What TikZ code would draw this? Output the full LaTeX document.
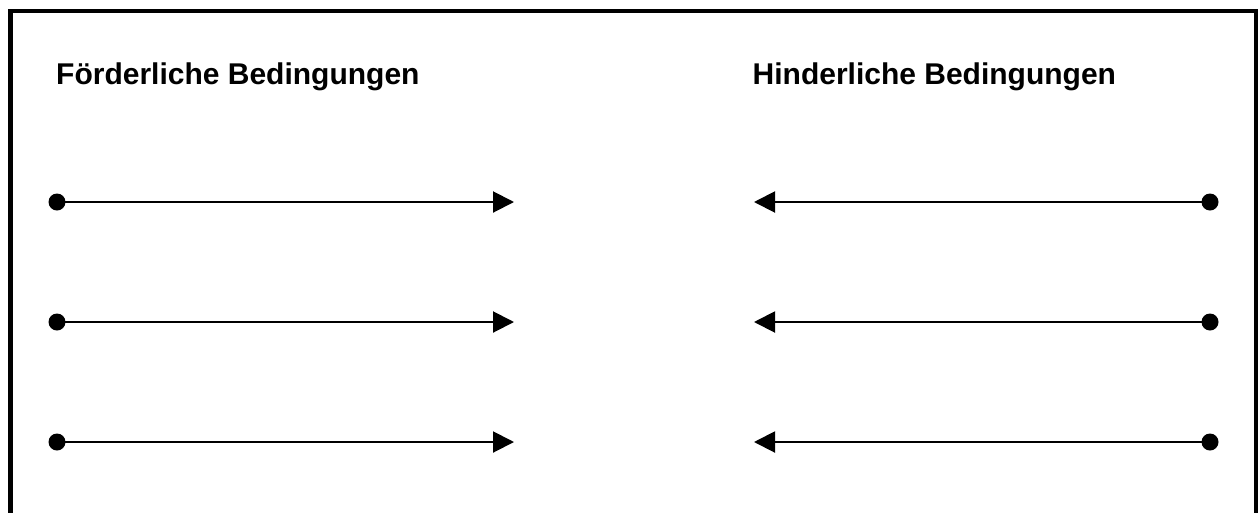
\documentclass[tikz,border=0pt]{standalone}
\usepackage{fontspec}
\setmainfont{Liberation Sans}
\usetikzlibrary{arrows.meta}
\begin{document}
\begin{tikzpicture}[x=1pt,y=-1pt,
  dot/.style={circle,fill=black,inner sep=0pt,minimum size=17pt},
  arr/.style={line width=2pt,-{Triangle[length=21pt,width=21pt]}},
  heading/.style={anchor=base west,inner sep=0pt,font=\fontsize{30}{36}\selectfont\bfseries},
  frame/.style={line width=4.5pt}]
  \clip (0,0) rectangle (1258,512);
  % outer frame, open at the bottom edge of the page
  \draw[frame] (10.5,11) rectangle (1256.5,540);
  % column headings
  \node[heading] (hl) at (56,84.3) {Förderliche Bedingungen};
  \node[heading] (hr) at (752.5,84.3) {Hinderliche Bedingungen};
  % left column: arrows pointing right
  \foreach \i/\y in {1/202,2/322,3/442}{
    \node[dot] (l\i) at (57,\y) {};
    \coordinate (lt\i) at (514,\y);
    \draw[arr] (l\i.center) -- (lt\i);
  }
  % right column: arrows pointing left
  \foreach \i/\y in {1/202,2/322,3/442}{
    \node[dot] (r\i) at (1210,\y) {};
    \coordinate (rt\i) at (754,\y);
    \draw[arr] (r\i.center) -- (rt\i);
  }
\end{tikzpicture}
\end{document}
